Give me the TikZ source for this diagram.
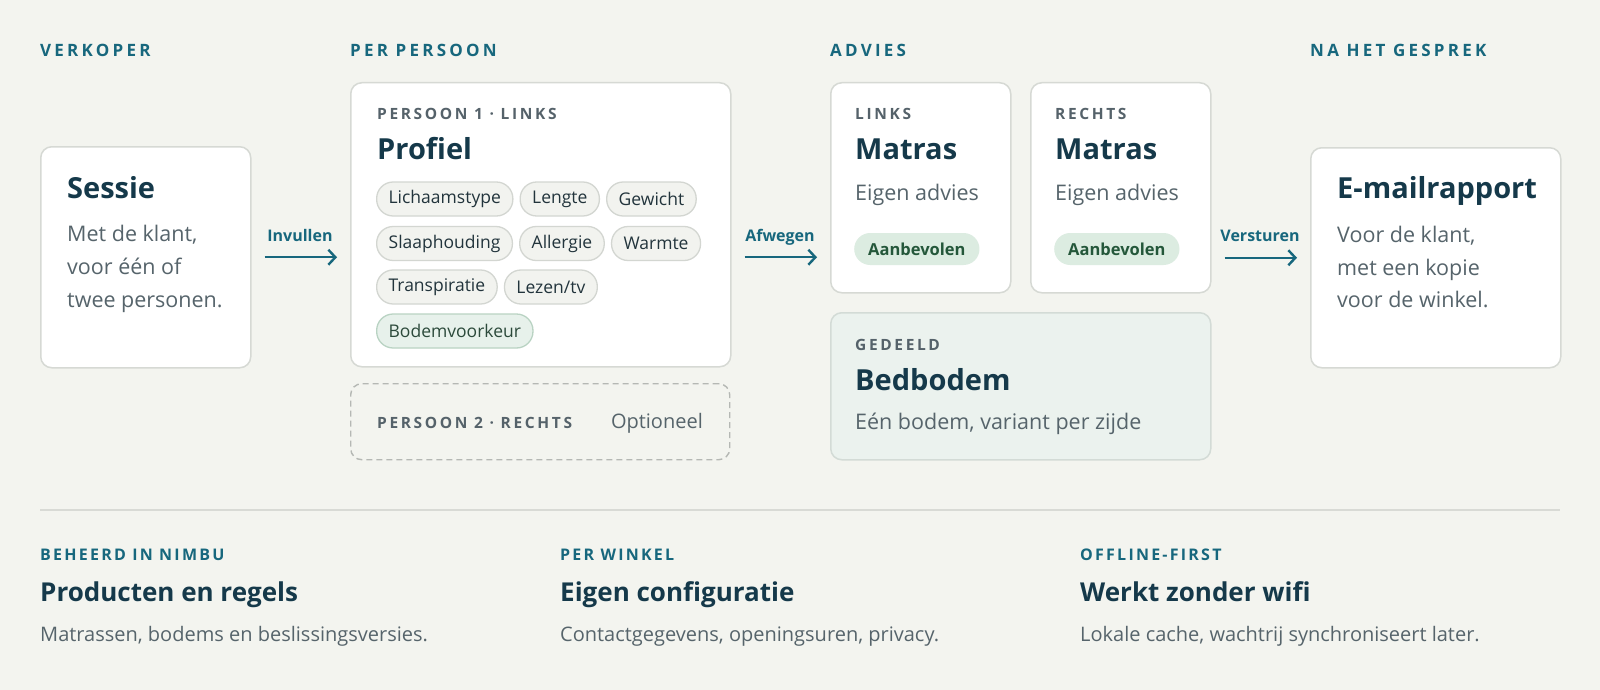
\documentclass[tikz,border=0pt]{standalone}
\usepackage{fontspec}
\setmainfont{Open Sans}
\newfontfamily\hdrfont[LetterSpace=19]{Open Sans}
\newfontfamily\lblfont[LetterSpace=17]{Open Sans}
\newfontfamily\bcapsfont[LetterSpace=14]{Open Sans}
\usetikzlibrary{arrows.meta}
\definecolor{bg}{HTML}{F3F4EF}
\definecolor{cardline}{HTML}{D6D9D4}
\definecolor{navy}{HTML}{15394A}
\definecolor{bodygrey}{HTML}{56646B}
\definecolor{labelgrey}{HTML}{55626A}
\definecolor{tealc}{HTML}{17677D}
\definecolor{chipfill}{HTML}{F2F3EF}
\definecolor{chipline}{HTML}{D3D6D1}
\definecolor{chiptext}{HTML}{22343C}
\definecolor{greenchip}{HTML}{E7F1EB}
\definecolor{greenchipline}{HTML}{B9D3C3}
\definecolor{greentext}{HTML}{2C4A3B}
\definecolor{pillfill}{HTML}{DCECE1}
\definecolor{pilltext}{HTML}{24573A}
\definecolor{sharedfill}{HTML}{EBF2EE}
\definecolor{sharedline}{HTML}{D3DBD6}
\definecolor{rulec}{HTML}{D8DAD5}
\definecolor{dashc}{HTML}{B5B8B4}
\tikzset{
  card/.style={draw=cardline, line width=1.5pt, fill=white, rounded corners=11pt, inner sep=0pt, anchor=north west},
  sharedbox/.style={card, fill=sharedfill, draw=sharedline},
  dashbox/.style={draw=dashc, line width=1.4pt, dash pattern=on 6pt off 4pt, rounded corners=11pt, inner sep=0pt, anchor=north west},
  t/.style={inner sep=0pt, anchor=base west},
  hdr/.style={t, text=tealc, font=\hdrfont\bfseries\fontsize{17}{20}\selectfont},
  lbl/.style={t, text=labelgrey, font=\lblfont\bfseries\fontsize{15.5}{18}\selectfont},
  ttl/.style={t, text=navy, font=\bfseries\fontsize{29}{34}\selectfont},
  body/.style={t, text=bodygrey, font=\fontsize{21.5}{26}\selectfont},
  chip/.style={draw=chipline, line width=1.3pt, fill=chipfill, rounded corners=16.5pt, minimum height=34pt, inner xsep=12pt, inner ysep=0pt, anchor=west, text=chiptext, font=\fontsize{17.5}{20}\selectfont},
  greenchipst/.style={chip, fill=greenchip, draw=greenchipline, text=greentext},
  pill/.style={fill=pillfill, rounded corners=16pt, minimum height=32pt, inner xsep=14pt, inner ysep=0pt, anchor=west, text=pilltext, font=\bfseries\fontsize{16.5}{19}\selectfont},
  arr/.style={draw=tealc, line width=2.4pt, -{Straight Barb[length=7pt,width=15pt]}},
  arrlbl/.style={inner sep=0pt, anchor=base, text=tealc, font=\bfseries\fontsize{16}{19}\selectfont},
  bhdr/.style={t, text=tealc, font=\bcapsfont\bfseries\fontsize{16}{19}\selectfont},
  bttl/.style={t, text=navy, font=\bfseries\fontsize{26}{31}\selectfont},
  bbody/.style={t, text=bodygrey, font=\fontsize{20}{24}\selectfont},
}
\begin{document}
\begin{tikzpicture}[x=1pt, y=-1pt]
\useasboundingbox (0,0) rectangle (1600,690);
\fill[bg] (0,0) rectangle (1600,690);

% column headers
\node[hdr] (h1) at (40,57) {VERKOPER};
\node[hdr] (h2) at (350,57) {PER PERSOON};
\node[hdr] (h3) at (830,57) {ADVIES};
\node[hdr] (h4) at (1310,57) {NA HET GESPREK};

% Sessie
\node[card, minimum width=210pt, minimum height=221pt] (sessie) at (40,146) {};
\node[ttl] (sessiet) at (67,198) {Sessie};
\node[body] (sessie1) at (67,241) {Met de klant,};
\node[body] (sessie2) at (67,274) {voor één of};
\node[body] (sessie3) at (67,307) {twee personen.};

% Profiel
\node[card, minimum width=380pt, minimum height=284pt] (profiel) at (350,82) {};
\node[lbl] (profl) at (377,120) {PERSOON 1 · LINKS};
\node[ttl] (proft) at (377,160) {Profiel};
\node[chip] (c1) at (376,199) {Lichaamstype};
\node[chip] (c2) at ([xshift=6pt]c1.east) {Lengte};
\node[chip] (c3) at ([xshift=6pt]c2.east) {Gewicht};
\node[chip] (c4) at (376,243.5) {Slaaphouding};
\node[chip] (c5) at ([xshift=6pt]c4.east) {Allergie};
\node[chip] (c6) at ([xshift=6pt]c5.east) {Warmte};
\node[chip] (c7) at (376,287) {Transpiratie};
\node[chip] (c8) at ([xshift=6pt]c7.east) {Lezen/tv};
\node[greenchipst] (c9) at (376,331) {Bodemvoorkeur};

% Persoon 2
\node[dashbox, minimum width=379pt, minimum height=76pt] (p2) at (350,383) {};
\node[lbl] (p2l) at (377,428) {PERSOON 2 · RECHTS};
\node[body, anchor=base east, font=\fontsize{20}{24}\selectfont] (p2o) at (703,428) {Optioneel};

% Advies
\node[card, minimum width=180pt, minimum height=210pt] (links) at (830,82) {};
\node[lbl] (linksl) at (855,120) {LINKS};
\node[ttl] (linkst) at (855,159) {Matras};
\node[body] (linksb) at (855,200) {Eigen advies};
\node[pill] (linksp) at (854,249) {Aanbevolen};

\node[card, minimum width=180pt, minimum height=210pt] (rechts) at (1030,82) {};
\node[lbl] (rechtsl) at (1055,120) {RECHTS};
\node[ttl] (rechtst) at (1055,159) {Matras};
\node[body] (rechtsb) at (1055,200) {Eigen advies};
\node[pill] (rechtsp) at (1054,249) {Aanbevolen};

\node[sharedbox, minimum width=380pt, minimum height=147pt] (bodem) at (830,312) {};
\node[lbl] (bodeml) at (855,350) {GEDEELD};
\node[ttl] (bodemt) at (855,390) {Bedbodem};
\node[body] (bodemb) at (855,429) {Eén bodem, variant per zijde};

% E-mail
\node[card, minimum width=250pt, minimum height=220pt] (email) at (1310,147) {};
\node[ttl] (emailt) at (1337,198) {E-mailrapport};
\node[body] (email1) at (1337,242) {Voor de klant,};
\node[body] (email2) at (1337,275) {met een kopie};
\node[body] (email3) at (1337,307) {voor de winkel.};

% arrows
\draw[arr] ([xshift=13pt]sessie.east) -- ([xshift=-13pt]profiel.west |- sessie.east);
\node[arrlbl] (a1) at (300,241) {Invullen};
\draw[arr] ([xshift=13pt]profiel.east |- sessie.east) -- ([xshift=-13pt]links.west |- sessie.east);
\node[arrlbl] (a2) at (780,241) {Afwegen};
\draw[arr] ([xshift=13pt]rechts.east |- email.west) -- ([xshift=-13pt]email.west);
\node[arrlbl] (a3) at (1260,241) {Versturen};

% bottom
\coordinate (r1) at (40,510);
\coordinate (r2) at (1560,510);
\draw[rulec, line width=2pt] (r1) -- (r2);
\node[bhdr] (b1h) at (40,560) {BEHEERD IN NIMBU};
\node[bttl] (b1t) at (40,601) {Producten en regels};
\node[bbody] (b1b) at (40,641) {Matrassen, bodems en beslissingsversies.};
\node[bhdr] (b2h) at (560,560) {PER WINKEL};
\node[bttl] (b2t) at (560,601) {Eigen configuratie};
\node[bbody] (b2b) at (560,641) {Contactgegevens, openingsuren, privacy.};
\node[bhdr] (b3h) at (1080,560) {OFFLINE-FIRST};
\node[bttl] (b3t) at (1080,601) {Werkt zonder wifi};
\node[bbody] (b3b) at (1080,641) {Lokale cache, wachtrij synchroniseert later.};
\end{tikzpicture}
\end{document}
